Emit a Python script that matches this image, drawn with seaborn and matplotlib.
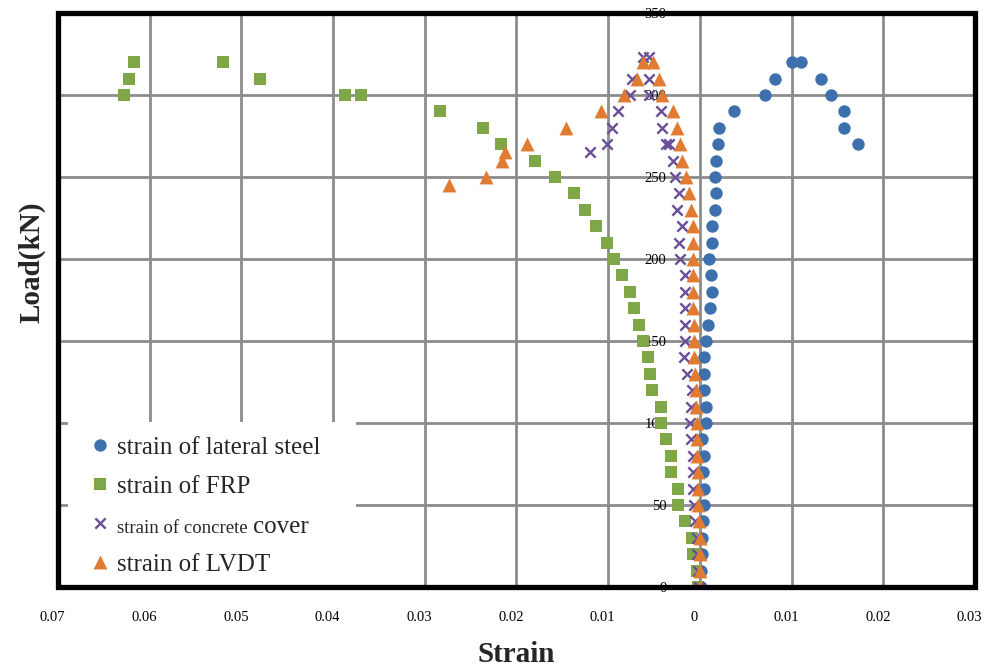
import matplotlib
matplotlib.use("Agg")
import matplotlib.pyplot as plt
import matplotlib.transforms as mtransforms
from matplotlib.patches import Rectangle
import seaborn as sns

# Load steps (kN) and measured strains for each gauge
steel_load = [0, 10, 20, 30, 40, 50, 60, 70, 80, 90, 100, 110, 120, 130, 140,
              150, 160, 170, 180, 190, 200, 210, 220, 230, 240, 250, 260, 270,
              280, 290, 300, 310, 320, 320, 310, 300, 290, 280, 270]
steel_strain = [0.0001, 0.0001, 0.0002, 0.0002, 0.0003, 0.0004, 0.0004, 0.0003,
                0.0005, 0.0002, 0.0007, 0.0007, 0.0004, 0.0005, 0.0005, 0.0007,
                0.0009, 0.0011, 0.0013, 0.0012, 0.0010, 0.0013, 0.0013, 0.0016,
                0.0018, 0.0017, 0.0018, 0.0020, 0.0021, 0.0037, 0.0071, 0.0082,
                0.0100, 0.0110, 0.0132, 0.0143, 0.0157, 0.0157, 0.0172]

frp_load = [0, 10, 20, 30, 40, 50, 60, 70, 80, 90, 100, 110, 120, 130, 140,
            150, 160, 170, 180, 190, 200, 210, 220, 230, 240, 250, 260, 270,
            280, 290, 300, 300, 310, 320, 320, 310, 300]
frp_strain = [-0.0002, -0.0003, -0.0007, -0.0009, -0.0016, -0.0024, -0.0024,
              -0.0032, -0.0032, -0.0037, -0.0042, -0.0042, -0.0052, -0.0054,
              -0.0057, -0.0062, -0.0066, -0.0072, -0.0076, -0.0085, -0.0094,
              -0.0101, -0.0113, -0.0125, -0.0137, -0.0158, -0.0180, -0.0217,
              -0.0237, -0.0283, -0.0369, -0.0387, -0.0480, -0.0520, -0.0617,
              -0.0622, -0.0628]

cover_load = [0, 10, 20, 30, 40, 50, 60, 70, 80, 90, 100, 110, 120, 130, 140,
              150, 160, 170, 180, 190, 200, 210, 220, 230, 240, 250, 260, 270,
              270, 280, 290, 300, 310, 323, 323, 310, 300, 290, 280, 270, 265]
cover_strain = [-0.0001, -0.0002, -0.0003, -0.0003, -0.0005, -0.0006, -0.0007,
                -0.0008, -0.0008, -0.0010, -0.0011, -0.0010, -0.0009, -0.0014,
                -0.0017, -0.0016, -0.0016, -0.0016, -0.0016, -0.0016, -0.0022,
                -0.0023, -0.0019, -0.0025, -0.0023, -0.0027, -0.0029, -0.0037,
                -0.0034, -0.0041, -0.0042, -0.0055, -0.0055, -0.0055, -0.0062,
                -0.0074, -0.0076, -0.0089, -0.0096, -0.0101, -0.0120]

lvdt_load = [0, 10, 20, 30, 40, 50, 60, 70, 80, 90, 100, 110, 120, 130, 140,
             150, 160, 170, 180, 190, 200, 210, 220, 230, 240, 250, 260, 270,
             280, 290, 300, 310, 320, 320, 310, 300, 290, 280, 270, 265, 260,
             250, 245]
lvdt_strain = [0.0000, 0.0000, 0.0000, 0.0000, -0.0001, -0.0002, -0.0002,
               -0.0002, -0.0003, -0.0003, -0.0003, -0.0004, -0.0004, -0.0005,
               -0.0006, -0.0006, -0.0006, -0.0007, -0.0007, -0.0007, -0.0007,
               -0.0007, -0.0008, -0.0010, -0.0012, -0.0015, -0.0019, -0.0022,
               -0.0025, -0.0029, -0.0041, -0.0045, -0.0051, -0.0062, -0.0069,
               -0.0083, -0.0108, -0.0146, -0.0189, -0.0213, -0.0216, -0.0233,
               -0.0274]

series_labels = ["strain of lateral steel", "strain of FRP",
                 "strain of concrete cover", "strain of LVDT"]

x_ticks = [-0.07, -0.06, -0.05, -0.04, -0.03, -0.02, -0.01, 0.0, 0.01, 0.02, 0.03]
x_tick_labels = ["0.07", "0.06", "0.05", "0.04", "0.03", "0.02", "0.01", "0",
                 "0.01", "0.02", "0.03"]
y_ticks = [0, 50, 100, 150, 200, 250, 300, 350]

BLUE = "#3E70AE"
GREEN = "#7FA647"
PURPLE = "#6B4E98"
ORANGE = "#E07B31"

sns.set_style("white")
plt.rcParams["font.family"] = ["Liberation Serif", "DejaVu Serif"]

fig = plt.figure(figsize=(9.89, 6.70), dpi=100)
ax = fig.add_axes([0.0586, 0.1239, 0.9272, 0.8567])

sns.scatterplot(x=steel_strain, y=steel_load, ax=ax, marker="o", s=80,
                color=BLUE, edgecolor=BLUE, linewidth=0, label=series_labels[0])
sns.scatterplot(x=frp_strain, y=frp_load, ax=ax, marker="s", s=82,
                color=GREEN, edgecolor=GREEN, linewidth=0, label=series_labels[1])
sns.scatterplot(x=cover_strain, y=cover_load, ax=ax, marker="x", s=55,
                color=PURPLE, linewidth=1.7, label=series_labels[2])
sns.scatterplot(x=lvdt_strain, y=lvdt_load, ax=ax, marker="^", s=100,
                color=ORANGE, edgecolor=ORANGE, linewidth=0, label=series_labels[3])

ax.set_xlim(-0.07, 0.03)
ax.set_ylim(0, 350)
ax.set_xticks(x_ticks)
ax.set_xticklabels(x_tick_labels)
ax.set_yticks(y_ticks)
ax.set_yticklabels([str(v) for v in y_ticks])

ax.set_axisbelow(True)
ax.grid(True, color="#8c8c8c", linewidth=2.0)

# load axis crosses at zero strain: its labels sit next to the x = 0 line
ax.spines["left"].set_position(("data", 0))
for sp in ax.spines.values():
    sp.set_visible(False)
ax.add_patch(Rectangle((0, 0), 1, 1, transform=ax.transAxes, fill=False,
                       edgecolor="black", linewidth=3.8, clip_on=False, zorder=8))

ax.tick_params(axis="y", length=0, pad=24, labelsize=10.5, labelcolor="black")
ax.tick_params(axis="x", length=0, pad=17, labelsize=10.5, labelcolor="black")
shift = mtransforms.ScaledTranslation(-0.055, 0, fig.dpi_scale_trans)
for lab in ax.get_xticklabels():
    lab.set_transform(lab.get_transform() + shift)

ax.set_xlabel("Strain", fontsize=21, fontweight="bold")
ax.xaxis.set_label_coords(0.5, -0.094)
ax.set_ylabel("Load(kN)", fontsize=21, fontweight="bold")
ax.yaxis.set_label_coords(-0.014, 0.566)

handles, labels = ax.get_legend_handles_labels()
leg = ax.legend(handles, labels, loc="upper left",
                bbox_to_anchor=(0.0109, 0.0, 0.314, 0.2875), mode="expand",
                borderaxespad=0, borderpad=0.44, handlelength=1.68,
                handleheight=1.2, handletextpad=-0.16, labelspacing=0.52,
                fontsize=18, frameon=True, fancybox=False, framealpha=1,
                facecolor="white", edgecolor="none", markerscale=1.0)
leg.set_zorder(6)
texts = leg.get_texts()
texts[2].set_text("strain of concrete")
texts[2].set_fontsize(13.5)
ax.annotate("cover", xy=(1, 0), xycoords=texts[2], xytext=(4, -1),
            textcoords="offset points", fontsize=18, ha="left", va="bottom",
            zorder=7)

fig.savefig("out.png", dpi=100)
